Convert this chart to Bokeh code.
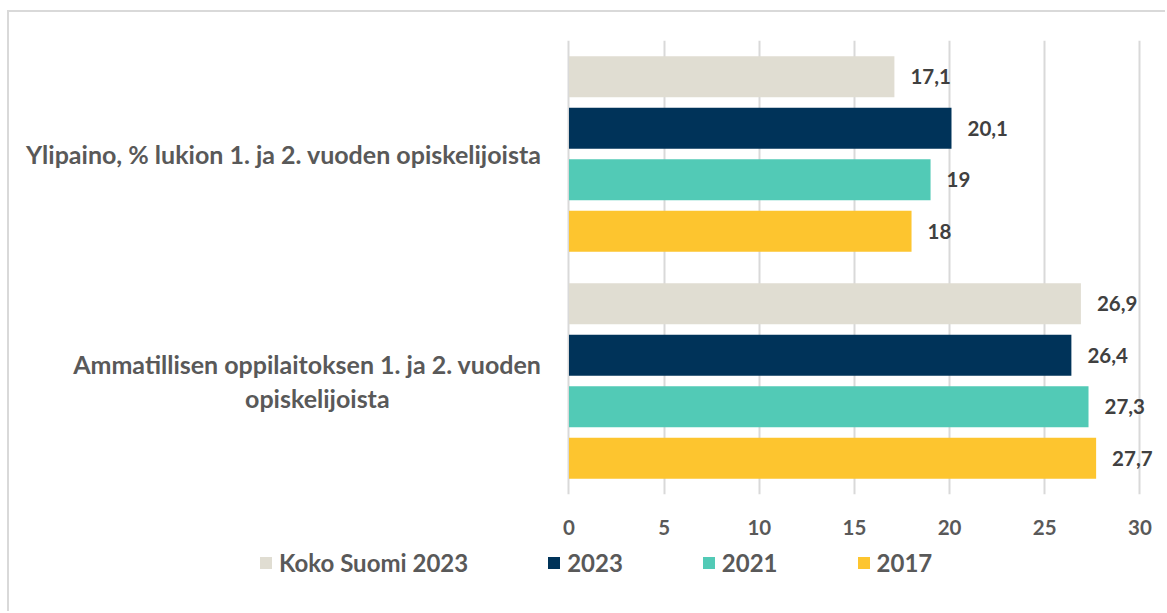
from bokeh.plotting import figure
from bokeh.layouts import column
from bokeh.models import Range1d, FactorRange, ColumnDataSource, FixedTicker, Legend, LegendItem
from bokeh.transform import dodge
from bokeh.core.properties import value
from bokeh.embed import file_html
from bokeh.resources import INLINE

NB = "\u00a0"
categories = ["Ylipaino, % lukion 1. ja 2. vuoden opiskelijoista",
              "Ammatillisen oppilaitoksen 1. ja 2. vuoden\nopiskelijoista" + NB * 25]
series = ["Koko Suomi 2023", "2023", "2021", "2017"]
koko_suomi_2023 = [17.1, 26.9]
vals_2023 = [20.1, 26.4]
vals_2021 = [19.0, 27.3]
vals_2017 = [18.0, 27.7]
x_ticks = [0, 5, 10, 15, 20, 25, 30]
colors = ["#E0DDD2", "#003359", "#52CAB6", "#FDC52F"]

all_vals = [koko_suomi_2023, vals_2023, vals_2021, vals_2017]

FONT = "Lato"
BORDER = "2px solid #D9D9D9"
W = 1158

p = figure(width=W, height=535, output_backend="svg", toolbar_location=None,
           x_range=Range1d(-0.131, -0.131 + (W - 557) / 19.03),
           y_range=FactorRange(factors=list(reversed(categories))),
           min_border_left=557, min_border_right=0, min_border_top=28, min_border_bottom=53,
           outline_line_color=None,
           styles={"border-top": BORDER, "border-left": BORDER})

pitch = 0.227
bar_h = 0.1806
offsets = [1.5 * pitch, 0.5 * pitch, -0.5 * pitch, -1.5 * pitch]

for name, vals, col, off in zip(series, all_vals, colors, offsets):
    src = ColumnDataSource(dict(cat=categories, val=vals,
                                label=[f"{v:g}".replace(".", ",") for v in vals]))
    p.hbar(y=dodge("cat", off, range=p.y_range), left=0, right="val", height=bar_h,
           source=src, fill_color=col, line_color=None)
    p.text(x="val", y=dodge("cat", off, range=p.y_range), text="label", source=src,
           x_offset=16, text_align="left", text_baseline="middle",
           text_font=value(FONT), text_font_style="bold", text_font_size="20.5px",
           text_color="#404040")

p.xaxis.ticker = FixedTicker(ticks=x_ticks)
p.xaxis.axis_line_color = None
p.xaxis.major_tick_line_color = None
p.xaxis.minor_tick_line_color = None
p.xaxis.major_tick_out = 0
p.xaxis.major_tick_in = 0
p.xaxis.minor_tick_out = 0
p.xaxis.major_label_standoff = 25
p.xaxis.major_label_text_font = FONT
p.xaxis.major_label_text_font_style = "bold"
p.xaxis.major_label_text_font_size = "20.5px"
p.xaxis.major_label_text_color = "#595959"

p.yaxis.axis_line_color = None
p.yaxis.major_tick_line_color = None
p.yaxis.minor_tick_line_color = None
p.yaxis.major_tick_out = 0
p.yaxis.major_tick_in = 0
p.yaxis.major_label_standoff = 25
p.yaxis.major_label_text_font = FONT
p.yaxis.major_label_text_font_style = "bold"
p.yaxis.major_label_text_font_size = "25px"
p.yaxis.major_label_text_line_height = 1.15
p.yaxis.major_label_text_color = "#595959"

p.xgrid.ticker = FixedTicker(ticks=x_ticks)
p.xgrid.grid_line_color = "#D9D9D9"
p.xgrid.grid_line_width = 2
p.ygrid.grid_line_color = None

# legend strip below the chart (separate root so its frame is not aligned to the chart)
pl = figure(width=W, height=66, output_backend="svg", toolbar_location=None,
            x_range=Range1d(0, 1), y_range=Range1d(0, 1),
            x_axis_location=None, y_axis_location=None,
            min_border_left=0, min_border_right=0, min_border_top=0, min_border_bottom=0,
            outline_line_color=None, styles={"border-left": BORDER})
pl.grid.visible = False
items = []
for name, vals, col in zip(series, all_vals, colors):
    lsrc = ColumnDataSource(dict(cat=[0.5] * len(vals), val=vals))
    r = pl.hbar(y="cat", left=0, right="val", height=0.1, source=lsrc,
                fill_color=col, line_color=None, visible=False)
    items.append(LegendItem(label=name, renderers=[r]))
legend = Legend(items=items, orientation="horizontal", location=(249, 34),
                glyph_width=15, glyph_height=15, label_standoff=6, spacing=78,
                padding=0, margin=0, border_line_color=None, background_fill_alpha=0,
                inactive_fill_alpha=0,
                label_text_font=FONT, label_text_font_style="bold",
                label_text_font_size="24px", label_text_color="#595959", label_height=20)
pl.add_layout(legend)

root1 = column(p, styles={"padding-left": "7px", "padding-top": "10px"})
root2 = column(pl, styles={"padding-left": "7px"})

open("out.html", "w").write(file_html([root1, root2], INLINE))
